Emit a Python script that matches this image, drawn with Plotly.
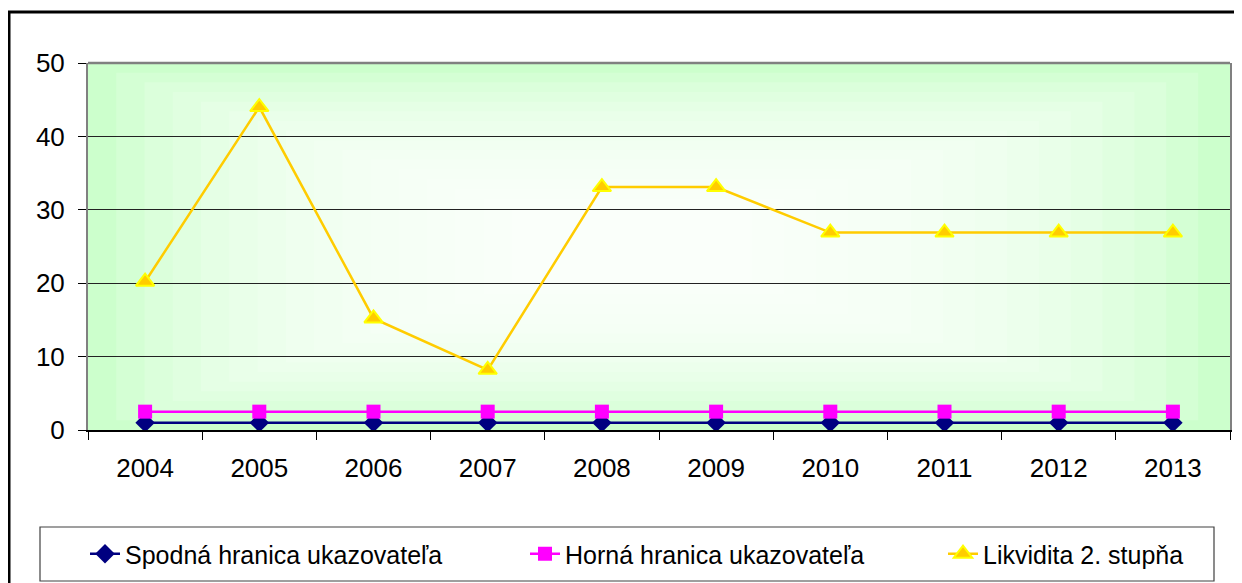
import plotly.graph_objects as go

years = ["2004", "2005", "2006", "2007", "2008", "2009", "2010", "2011", "2012", "2013"]
spodna = [1, 1, 1, 1, 1, 1, 1, 1, 1, 1]
horna = [2.5, 2.5, 2.5, 2.5, 2.5, 2.5, 2.5, 2.5, 2.5, 2.5]
likvidita = [20.2, 44.0, 15.2, 8.2, 33.1, 33.1, 26.9, 26.9, 26.9, 26.9]

names = ["Spodná hranica ukazovateľa", "Horná hranica ukazovateľa", "Likvidita 2. stupňa"]

# page body has an 8px margin, so the figure is laid out 8px smaller / shifted
OFF = 8
W, H = 1242 - OFF, 583 - OFF
# target plot area in screen pixels: x 88..1230, y 63..430
L, R, T, B = 88 - OFF, 1242 - 1230, 63 - OFF, 583 - 430
PW = W - L - R
PH = H - T - B

def px_x(p):
    return (p - OFF - L) / PW

def px_y(p):
    return (H - B - (p - OFF)) / PH

FONT = "Arial, Liberation Sans, sans-serif"

fig = go.Figure()
fig.add_trace(go.Scatter(
    x=years, y=spodna, name=names[0], mode="lines+markers", legend="legend",
    line=dict(color="#000080", width=2.5),
    marker=dict(symbol="diamond", size=15, color="#000080", line=dict(width=0)),
))
fig.add_trace(go.Scatter(
    x=years, y=horna, name=names[1], mode="lines+markers", legend="legend2",
    line=dict(color="#FF00FF", width=2.5),
    marker=dict(symbol="square", size=14, color="#FF00FF", line=dict(width=0)),
))
fig.add_trace(go.Scatter(
    x=years, y=likvidita, name=names[2], mode="lines+markers", legend="legend3",
    line=dict(color="#FFCC00", width=2.5),
    marker=dict(symbol="triangle-up", size=16, color="#FFCC00",
                line=dict(color="#FFFF00", width=2)),
))

shapes = []
# rectangular gradient: green edges -> white centre
N = 18
cx, cy = 0.47, 0.50
for i in range(1, N + 1):
    f = 1 - i / (N + 1)
    shapes.append(dict(
        type="rect", xref="x domain", yref="y domain",
        x0=cx - cx * f, x1=cx + (1 - cx) * f,
        y0=cy - cy * f, y1=cy + (1 - cy) * f,
        fillcolor="white", opacity=0.16, line=dict(width=0), layer="below",
    ))
# top border of plot area
shapes.append(dict(type="line", xref="x domain", yref="y domain",
                   x0=0, x1=1, y0=1, y1=1, line=dict(color="#808080", width=2.5)))
# outer chart border
shapes.append(dict(type="rect", xref="paper", yref="paper",
                   x0=px_x(9), x1=px_x(1300), y0=px_y(640), y1=px_y(12),
                   line=dict(color="black", width=3), fillcolor="rgba(0,0,0,0)"))
# legend box
shapes.append(dict(type="rect", xref="paper", yref="paper",
                   x0=px_x(40), x1=px_x(1214), y0=px_y(581), y1=px_y(527),
                   line=dict(color="#404040", width=1.2), fillcolor="rgba(0,0,0,0)"))

def leg(xpx):
    return dict(
        orientation="h", x=px_x(xpx), xanchor="left",
        y=px_y(554), yanchor="middle",
        bgcolor="rgba(0,0,0,0)", borderwidth=0,
        font=dict(family=FONT, size=25, color="black"),
    )

fig.update_layout(
    width=W, height=H,
    margin=dict(l=L, r=R, t=T, b=B, autoexpand=False),
    paper_bgcolor="white",
    plot_bgcolor="#CCFFCC",
    font=dict(family=FONT, size=25, color="black"),
    shapes=shapes,
    showlegend=True,
    legend=leg(85),
    legend2=leg(525),
    legend3=leg(943),
    xaxis=dict(
        type="category", tickson="boundaries",
        range=[-0.5, len(years) - 0.5],
        ticks="outside", ticklen=8, tickcolor="black", tickwidth=1.2,
        showline=True, linecolor="black", linewidth=1.5,
        showgrid=False, zeroline=False,
        tickfont=dict(family=FONT, size=26),
        ticklabelstandoff=14,
    ),
    yaxis=dict(
        range=[0, 50], dtick=10,
        ticks="outside", ticklen=8, tickcolor="black", tickwidth=1.2,
        showline=True, linecolor="#808080", linewidth=2, mirror=True,
        showgrid=True, gridcolor="#222222", gridwidth=1.2,
        zeroline=False,
        tickfont=dict(family=FONT, size=26),
        ticklabelstandoff=8,
    ),
)

fig.write_html("out.html")
